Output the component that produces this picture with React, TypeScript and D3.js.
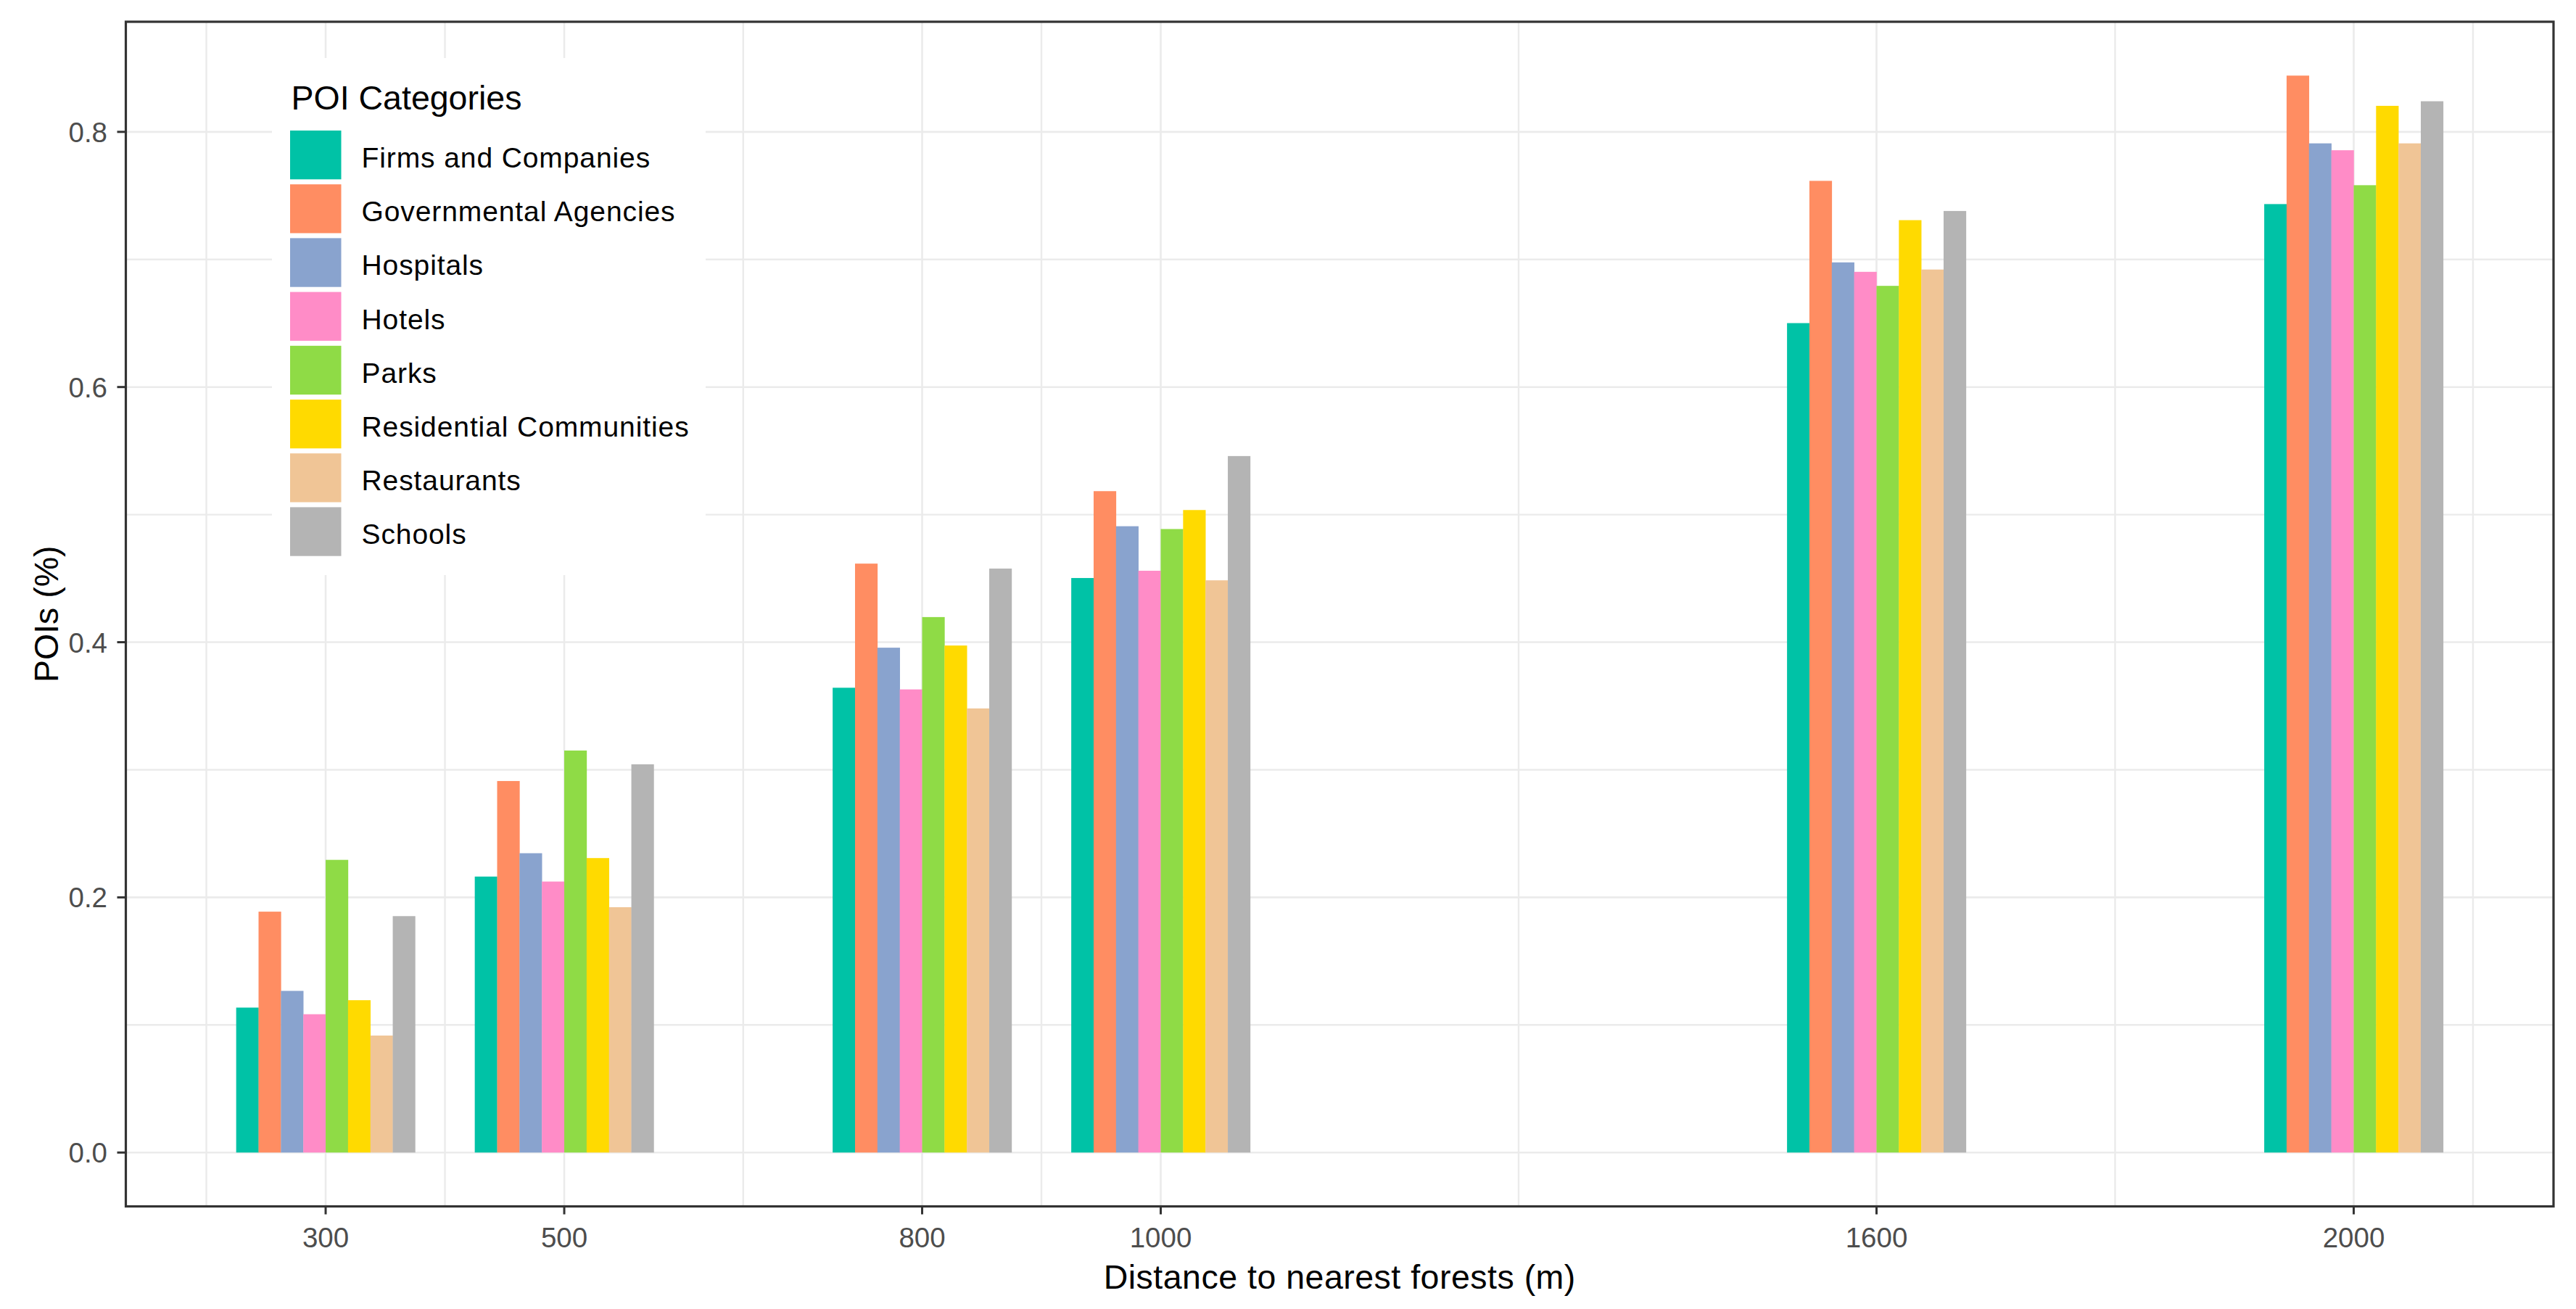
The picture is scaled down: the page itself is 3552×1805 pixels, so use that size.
import React from "react";
import * as d3 from "d3";

const distances = [300, 500, 800, 1000, 1600, 2000];
const categories = [
  "Firms and Companies",
  "Governmental Agencies",
  "Hospitals",
  "Hotels",
  "Parks",
  "Residential Communities",
  "Restaurants",
  "Schools",
];
const colors = ["#00C2A6", "#FF8D62", "#89A3CE", "#FF8CC7", "#8FDB46", "#FFDA00", "#F0C596", "#B4B4B4"];

const firms = [0.1136, 0.2163, 0.3643, 0.4503, 0.6501, 0.7434];
const governmental = [0.1888, 0.2912, 0.4616, 0.5184, 0.7616, 0.8441];
const hospitals = [0.1267, 0.2346, 0.3957, 0.4909, 0.6977, 0.791];
const hotels = [0.1084, 0.2124, 0.363, 0.456, 0.6903, 0.7856];
const parks = [0.2294, 0.3151, 0.4197, 0.4887, 0.6793, 0.7582];
const residential = [0.1194, 0.2308, 0.3974, 0.5036, 0.7308, 0.8204];
const restaurants = [0.0917, 0.1923, 0.3481, 0.4485, 0.6921, 0.791];
const schools = [0.1853, 0.3043, 0.4577, 0.5459, 0.738, 0.824];
const seriesValues = [firms, governmental, hospitals, hotels, parks, residential, restaurants, schools];

const xBreaks = [300, 500, 800, 1000, 1600, 2000];
const xMinor = [200, 400, 650, 900, 1300, 1800, 2100];
const yBreaks = [0, 0.2, 0.4, 0.6, 0.8];
const yMinor = [0.1, 0.3, 0.5, 0.7];

const W = 3552;
const H = 1805;
const FONT = "'Liberation Sans', Arial, sans-serif";

export default function App() {
  const dodge = 150;
  const barW = dodge / categories.length;
  const xMin = d3.min(distances)! - dodge / 2;
  const xMax = d3.max(distances)! + dodge / 2;
  const xPad = (xMax - xMin) * 0.05;
  const yMaxV = d3.max(seriesValues.flat())!;
  const yPad = yMaxV * 0.05;

  const L = 173.5, R = 3521, T = 30, B = 1663.5;
  const x = d3.scaleLinear().domain([xMin - xPad, xMax + xPad]).range([L, R]);
  const y = d3.scaleLinear().domain([-yPad, yMaxV + yPad]).range([B, T]);

  const gridColor = "#EBEBEB";
  const legend = { x: 375, y: 80, w: 598, h: 713 };
  const keyTop0 = 180, keyStep = 74.2, keyH = 67.3, keyX = 400, keyW = 70.5;

  return (
    <svg
      width={W}
      height={H}
      viewBox={`0 0 ${W} ${H}`}
      style={{ position: "absolute", left: 0, top: 0, background: "#fff" }}
      fontFamily={FONT}
    >
      <rect x={0} y={0} width={W} height={H} fill="#fff" />
      {/* grid */}
      <g>
        {yMinor.map((v) => (
          <line key={"ym" + v} x1={L} x2={R} y1={y(v)} y2={y(v)} stroke={gridColor} strokeWidth={2.4} />
        ))}
        {xMinor.map((v) => (
          <line key={"xm" + v} x1={x(v)} x2={x(v)} y1={T} y2={B} stroke={gridColor} strokeWidth={2.4} />
        ))}
        {yBreaks.map((v) => (
          <line key={"yM" + v} x1={L} x2={R} y1={y(v)} y2={y(v)} stroke={gridColor} strokeWidth={2.6} />
        ))}
        {xBreaks.map((v) => (
          <line key={"xM" + v} x1={x(v)} x2={x(v)} y1={T} y2={B} stroke={gridColor} strokeWidth={2.6} />
        ))}
      </g>
      {/* bars */}
      <g>
        {distances.map((d, gi) =>
          seriesValues.map((vals, si) => {
            const x0 = x(d - dodge / 2 + si * barW);
            const x1 = x(d - dodge / 2 + (si + 1) * barW);
            return (
              <rect
                key={gi + "-" + si}
                x={x0}
                y={y(vals[gi])}
                width={x1 - x0 + 0.3}
                height={y(0) - y(vals[gi])}
                fill={colors[si]}
              />
            );
          })
        )}
      </g>
      {/* legend */}
      <g>
        <rect x={legend.x} y={legend.y} width={legend.w} height={legend.h} fill="#fff" />
        <text x={401.5} y={150.5} fontSize={46.5} fill="#000">
          POI Categories
        </text>
        {categories.map((c, i) => (
          <g key={c}>
            <rect x={keyX} y={keyTop0 + i * keyStep} width={keyW} height={keyH} fill={colors[i]} />
            <text x={498.5} y={keyTop0 + i * keyStep + 51} fontSize={39} letterSpacing={0.9} fill="#000">
              {c}
            </text>
          </g>
        ))}
      </g>
      {/* panel border */}
      <rect x={L} y={T} width={R - L} height={B - T} fill="none" stroke="#333333" strokeWidth={3.2} />
      {/* y axis */}
      <g>
        {yBreaks.map((v) => (
          <g key={"yt" + v}>
            <line x1={L - 12} x2={L} y1={y(v)} y2={y(v)} stroke="#333333" strokeWidth={3} />
            <text x={148} y={y(v) + 14} fontSize={38.5} fill="#4D4D4D" textAnchor="end">
              {d3.format(".1f")(v)}
            </text>
          </g>
        ))}
      </g>
      {/* x axis */}
      <g>
        {xBreaks.map((v) => (
          <g key={"xt" + v}>
            <line x1={x(v)} x2={x(v)} y1={B} y2={B + 11} stroke="#333333" strokeWidth={3} />
            <text x={x(v)} y={1720} fontSize={38.5} fill="#4D4D4D" textAnchor="middle">
              {v}
            </text>
          </g>
        ))}
      </g>
      <text x={(L + R) / 2} y={1777} fontSize={46.5} letterSpacing={0.5} fill="#000" textAnchor="middle">
        Distance to nearest forests (m)
      </text>
      <text
        x={0}
        y={0}
        transform={`translate(80, ${(T + B) / 2}) rotate(-90)`}
        fontSize={46.5}
        fill="#000"
        textAnchor="middle"
      >
        POIs (%)
      </text>
    </svg>
  );
}
